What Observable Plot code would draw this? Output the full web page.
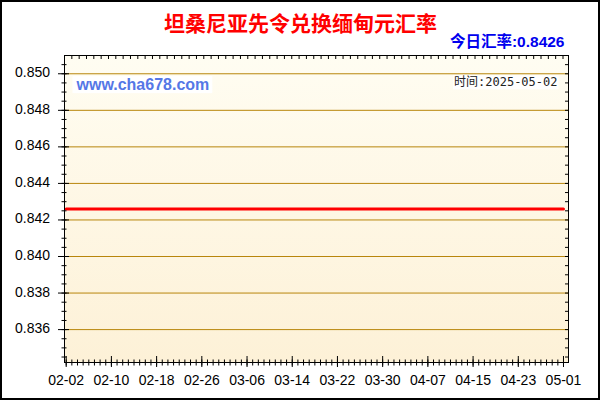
<!DOCTYPE html>
<html><head><meta charset="utf-8">
<script src="https://cdn.jsdelivr.net/npm/d3@7"></script>
<script src="https://cdn.jsdelivr.net/npm/@observablehq/plot@0.6"></script>
<style>
html,body{margin:0;padding:0;background:#fff;}
#chart{position:relative;width:600px;height:400px;overflow:hidden;}
#chart svg{display:block;}
#border{position:absolute;left:0;top:0;width:600px;height:400px;box-sizing:border-box;border:2px solid #000;pointer-events:none;}
</style></head><body>
<div id="chart"><div id="border"></div></div>
<script>
const title = "坦桑尼亚先令兑换缅甸元汇率";
const todayLabel = "今日汇率:0.8426";
const site = "www.cha678.com";
const timeLabel = "时间:2025-05-02";
const dates = ["2025-02-02", "2025-05-01"];
const rates = [0.8426, 0.8426];
const xTickLabels = ["02-02","02-10","02-18","02-26","03-06","03-14","03-22","03-30","04-07","04-15","04-23","05-01"];
const yTicks = [0.836, 0.838, 0.840, 0.842, 0.844, 0.846, 0.848, 0.850];
const year = 2025;
const yDomain = [0.8342, 0.8510];

const DAY = 864e5;
const parse = s => new Date(s + "T00:00:00Z");
const xTickDates = xTickLabels.map(l => parse(`${year}-${l}`));
const firstDay = parse(dates[0]);
const lastDay = parse(dates[dates.length - 1]);
const xDomain = [new Date(+firstDay - 0.3 * DAY), new Date(+lastDay + 0.885 * DAY)];
const dayTicks = d3.utcDay.range(firstDay, new Date(+lastDay + DAY));
const yMinor = d3.range(0, 33).map(i => 0.8345 + i * 0.0005);
const topStep = (xDomain[1] - xDomain[0]) / 68.75;
const topTicks = d3.range(0, 69).map(i => new Date(+xDomain[0] + i * topStep));

const data = dates.map((d, i) => ({date: parse(d), rate: rates[i]}));

const defsMark = () => {
  const defs = d3.create("svg:defs");
  const g = defs.append("linearGradient").attr("id", "bgGrad")
    .attr("x1", 0).attr("y1", 0).attr("x2", 0).attr("y2", 1);
  g.append("stop").attr("offset", "0%").attr("stop-color", "#fffdf2");
  g.append("stop").attr("offset", "100%").attr("stop-color", "#fdf1d7");
  return defs.node();
};

const plot = Plot.plot({
  width: 600, height: 400,
  marginLeft: 64, marginRight: 32, marginTop: 55, marginBottom: 38,
  style: {fontFamily: "'Liberation Sans', Arial, sans-serif", fontSize: "14px", background: "white", color: "#000"},
  x: {type: "utc", domain: xDomain, label: null},
  y: {domain: yDomain, label: null},
  marks: [
    defsMark,
    Plot.frame({fill: "url(#bgGrad)", stroke: "none"}),
    Plot.gridY(yTicks, {stroke: "#b8860b", strokeOpacity: 1, strokeWidth: 1}),
    Plot.text([site], {frameAnchor: "top-left", lineAnchor: "middle", dx: 12, dy: 29.5, textAnchor: "start",
      fill: "#5577e6", fontWeight: "bold", fontSize: 16, fontFamily: "'Liberation Sans', Arial, sans-serif"}),
    Plot.text([timeLabel], {frameAnchor: "top-right", lineAnchor: "middle", dx: -11, dy: 27, textAnchor: "end",
      fill: "#222", fontSize: 12, fontFamily: "'DejaVu Sans Mono', 'Noto Sans CJK SC', monospace"}),
    Plot.line(data, {x: "date", y: "rate", stroke: "#ff0000", strokeWidth: 3}),
    Plot.frame({stroke: "#000", strokeWidth: 1}),
    // left axis
    Plot.axisY(yTicks, {anchor: "left", tickSize: 11, dx: 5, fill: "none", stroke: "#000"}),
    Plot.axisY(yMinor, {anchor: "left", tickSize: 5, dx: 2.5, fill: "none", stroke: "#000"}),
    Plot.axisY(yTicks, {anchor: "left", tickSize: 6, tickPadding: 8.5, stroke: "none", fill: "#000",
      tickFormat: d3.format(".3f"), dy: -1, fontSize: 14}),
    // right axis
    Plot.axisY(yMinor, {anchor: "right", tickSize: 4, dx: -4, fill: "none", stroke: "#000"}),
    // bottom axis
    Plot.axisX(xTickDates, {anchor: "bottom", tickSize: 11, dy: -6, fill: "none", stroke: "#000"}),
    Plot.axisX(dayTicks, {anchor: "bottom", tickSize: 6, dy: -2.5, fill: "none", stroke: "#000"}),
    Plot.axisX(xTickDates, {anchor: "bottom", tickSize: 6, tickPadding: 7, stroke: "none", fill: "#000",
      tickFormat: d3.utcFormat("%m-%d"), fontSize: 14}),
    // top ticks
    Plot.axisX(topTicks, {anchor: "top", tickSize: 3, dy: 3, fill: "none", stroke: "#000"}),
    // titles
    Plot.text([title], {frameAnchor: "top", lineAnchor: "middle", dx: -16, dy: -31, fill: "#ff0000", fontWeight: "bold",
      fontSize: 21, fontFamily: "'Noto Sans CJK SC', sans-serif"}),
    Plot.text([todayLabel], {frameAnchor: "top-right", lineAnchor: "middle", dx: -4, dy: -13.5, textAnchor: "end", fill: "#0000ee",
      fontWeight: "bold", fontSize: 15.5, fontFamily: "'Liberation Sans', 'Noto Sans CJK SC', sans-serif"})
  ]
});

const chart = document.getElementById("chart");
chart.insertBefore(plot, chart.firstChild);

// white boxes behind the watermark texts
plot.querySelectorAll("text").forEach(t => {
  const s = t.textContent;
  if (s === site || s === timeLabel) {
    const b = t.getBBox();
    const padX = s === site ? 3 : 1;
    const r = document.createElementNS("http://www.w3.org/2000/svg", "rect");
    r.setAttribute("x", b.x - padX);
    r.setAttribute("y", b.y);
    r.setAttribute("width", b.width + 2 * padX);
    r.setAttribute("height", b.height);
    r.setAttribute("fill", "#fff");
    const tr = t.getAttribute("transform");
    if (tr) r.setAttribute("transform", tr);
    t.parentNode.insertBefore(r, t);
  }
});
</script>
</body></html>
